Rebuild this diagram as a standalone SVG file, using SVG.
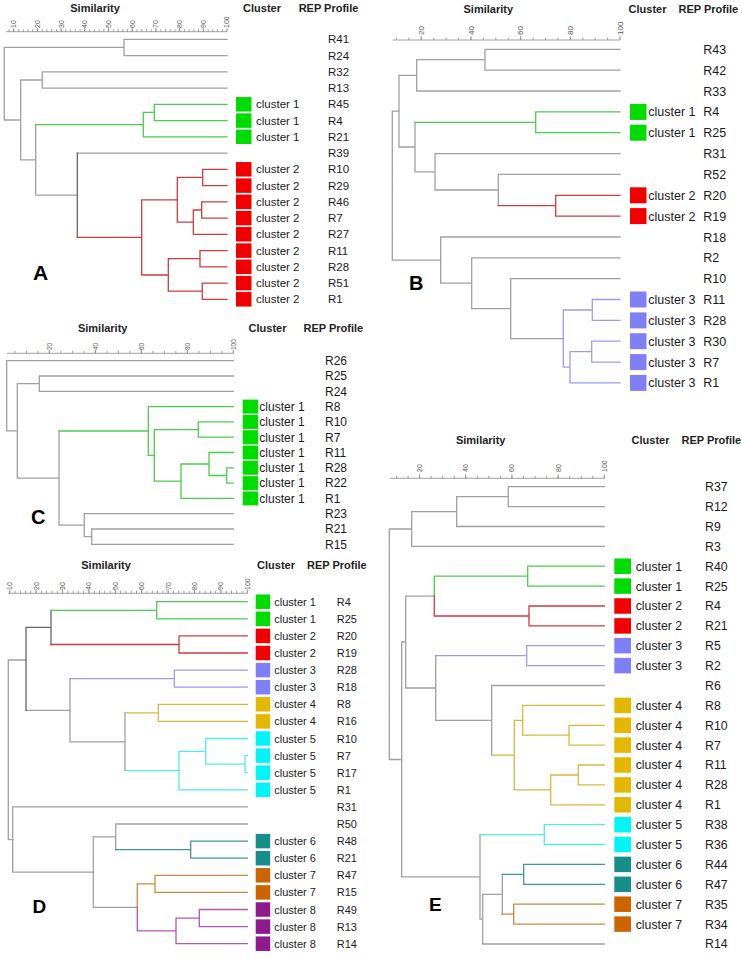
<svg xmlns="http://www.w3.org/2000/svg" width="742" height="959" viewBox="0 0 742 959">
<defs>
<style>
.ln{fill:none;stroke-width:1.3;stroke-linecap:square}
.g{stroke:#a0a0a0}.d{stroke:#666}.cg{stroke:#4ccc4c}.cr{stroke:#cc3c3c}.cb{stroke:#9c9cf0}.cy{stroke:#d9b840}.cc{stroke:#55e8e8}.ct{stroke:#3f9896}.co{stroke:#c98a3e}.cp{stroke:#b455b4}
.sg{fill:#00dc00}.sr{fill:#f20000}.sb{fill:#8080f6}.sy{fill:#e3b800}.sc{fill:#00f6f6}.st{fill:#178e8a}.so{fill:#cc6400}.sp{fill:#8e1a8e}
.hd{font-family:"Liberation Sans",Arial,sans-serif;font-weight:bold;font-size:11px;fill:#222;text-anchor:middle}
.pl{font-family:"Liberation Sans",Arial,sans-serif;font-weight:bold;fill:#000}
.tk{font-family:"Liberation Sans",Arial,sans-serif;fill:#555}
.ax{fill:none;stroke:#888;stroke-width:0.8}
.fa{font-family:"Liberation Sans",Arial,sans-serif;font-size:11.5px;fill:#1a1a1a}
.fb{font-family:"Liberation Sans",Arial,sans-serif;font-size:12.5px;fill:#1a1a1a}
.fc{font-family:"Liberation Sans",Arial,sans-serif;font-size:12px;fill:#1a1a1a}
.fd{font-family:"Liberation Sans",Arial,sans-serif;font-size:11px;fill:#1a1a1a}
.fe{font-family:"Liberation Sans",Arial,sans-serif;font-size:12.3px;fill:#1a1a1a}
</style>
<pattern id="pA" x="13.3" y="0" width="4.74" height="959" patternUnits="userSpaceOnUse"><rect x="0" y="0" width="0.8" height="959" fill="#888"/></pattern>
<pattern id="pB" x="420.8" y="0" width="12.425" height="959" patternUnits="userSpaceOnUse"><rect x="0" y="0" width="0.8" height="959" fill="#888"/></pattern>
<pattern id="pC" x="48.9" y="0" width="11.5" height="959" patternUnits="userSpaceOnUse"><rect x="0" y="0" width="0.8" height="959" fill="#888"/></pattern>
<pattern id="pD" x="9.3" y="0" width="5.28" height="959" patternUnits="userSpaceOnUse"><rect x="0" y="0" width="0.8" height="959" fill="#888"/></pattern>
<pattern id="pE" x="419.1" y="0" width="11.55" height="959" patternUnits="userSpaceOnUse"><rect x="0" y="0" width="0.8" height="959" fill="#888"/></pattern>
</defs>
<rect width="742" height="959" fill="#fff"/>

<!-- ================= PANEL A ================= -->
<g id="panelA">
<text class="hd" x="95" y="12">Similarity</text>
<text class="hd" x="262" y="12">Cluster</text>
<text class="hd" x="328.5" y="12">REP Profile</text>
<g id="axisA">
<path class="ax" d="M6 31.7H227M13.7 31.7v-4M37.4 31.7v-4M61.1 31.7v-4M84.8 31.7v-4M108.5 31.7v-4M132.2 31.7v-4M155.9 31.7v-4M179.6 31.7v-4M203.3 31.7v-4M227 31.7v-4"/>
<rect x="6" y="29.2" width="221.4" height="2.5" fill="url(#pA)"/>
<g class="tk" font-size="7">
<text transform="translate(16.1,28) rotate(-90)">10</text>
<text transform="translate(39.8,28) rotate(-90)">20</text>
<text transform="translate(63.5,28) rotate(-90)">30</text>
<text transform="translate(87.2,28) rotate(-90)">40</text>
<text transform="translate(110.9,28) rotate(-90)">50</text>
<text transform="translate(134.6,28) rotate(-90)">60</text>
<text transform="translate(158.3,28) rotate(-90)">70</text>
<text transform="translate(182,28) rotate(-90)">80</text>
<text transform="translate(205.7,28) rotate(-90)">90</text>
<text transform="translate(229.4,28) rotate(-90)">100</text>
</g>
</g>
<g id="connectorsA">
<path class="ln g" d="M124 39.3H227M124 55.6H227M124 39.3V55.6M42.3 71.8H227M42.3 88.1H227M42.3 71.8V88.1M77.3 153.1H227M4.3 47.4H124M4.3 47.4V120M4.3 120H20.7M20.7 80H42.3M20.7 80V159.9M20.7 159.9H35.7M35.7 124.6V195.2M35.7 195.2H77.3"/>
<path class="ln d" d="M77.3 153.1V237.4"/>
<path class="ln cg" d="M154.3 104.3H227M154.3 120.6H227M154.3 104.3V120.6M143.3 112.4H154.3M143.3 136.8H227M143.3 112.4V136.8M35.7 124.6H143.3"/>
<path class="ln cr" d="M202.7 169.3H227M202.7 185.6H227M202.7 169.3V185.6M201.7 201.8H227M201.7 218.1H227M201.7 201.8V218.1M193.3 210H201.7M193.3 234.3H227M193.3 210V234.3M177.3 177.4H202.7M177.3 222.2H193.3M177.3 177.4V222.2M200 250.6H227M200 266.8H227M200 250.6V266.8M202.3 283.1H227M202.3 299.3H227M202.3 283.1V299.3M168.3 258.7H200M168.3 291.2H202.3M168.3 258.7V291.2M141.7 199.8H177.3M141.7 275H168.3M141.7 199.8V275M77.3 237.4H141.7"/>
</g>
<g id="A-R41"><text class="fa" x="328" y="43.4">R41</text></g>
<g id="A-R24"><text class="fa" x="328" y="59.7">R24</text></g>
<g id="A-R32"><text class="fa" x="328" y="75.9">R32</text></g>
<g id="A-R13"><text class="fa" x="328" y="92.2">R13</text></g>
<g id="A-R45"><rect class="sg" x="236" y="97.05" width="15.5" height="14.5"/><text class="fa" x="256" y="108.4">cluster 1</text><text class="fa" x="328" y="108.4">R45</text></g>
<g id="A-R4"><rect class="sg" x="236" y="113.35" width="15.5" height="14.5"/><text class="fa" x="256" y="124.7">cluster 1</text><text class="fa" x="328" y="124.7">R4</text></g>
<g id="A-R21"><rect class="sg" x="236" y="129.55" width="15.5" height="14.5"/><text class="fa" x="256" y="140.9">cluster 1</text><text class="fa" x="328" y="140.9">R21</text></g>
<g id="A-R39"><text class="fa" x="328" y="157.2">R39</text></g>
<g id="A-R10"><rect class="sr" x="236" y="162.05" width="15.5" height="14.5"/><text class="fa" x="256" y="173.4">cluster 2</text><text class="fa" x="328" y="173.4">R10</text></g>
<g id="A-R29"><rect class="sr" x="236" y="178.35" width="15.5" height="14.5"/><text class="fa" x="256" y="189.7">cluster 2</text><text class="fa" x="328" y="189.7">R29</text></g>
<g id="A-R46"><rect class="sr" x="236" y="194.55" width="15.5" height="14.5"/><text class="fa" x="256" y="205.9">cluster 2</text><text class="fa" x="328" y="205.9">R46</text></g>
<g id="A-R7"><rect class="sr" x="236" y="210.85" width="15.5" height="14.5"/><text class="fa" x="256" y="222.2">cluster 2</text><text class="fa" x="328" y="222.2">R7</text></g>
<g id="A-R27"><rect class="sr" x="236" y="227.05" width="15.5" height="14.5"/><text class="fa" x="256" y="238.4">cluster 2</text><text class="fa" x="328" y="238.4">R27</text></g>
<g id="A-R11"><rect class="sr" x="236" y="243.35" width="15.5" height="14.5"/><text class="fa" x="256" y="254.7">cluster 2</text><text class="fa" x="328" y="254.7">R11</text></g>
<g id="A-R28"><rect class="sr" x="236" y="259.55" width="15.5" height="14.5"/><text class="fa" x="256" y="270.9">cluster 2</text><text class="fa" x="328" y="270.9">R28</text></g>
<g id="A-R51"><rect class="sr" x="236" y="275.85" width="15.5" height="14.5"/><text class="fa" x="256" y="287.2">cluster 2</text><text class="fa" x="328" y="287.2">R51</text></g>
<g id="A-R1"><rect class="sr" x="236" y="292.05" width="15.5" height="14.5"/><text class="fa" x="256" y="303.4">cluster 2</text><text class="fa" x="328" y="303.4">R1</text></g>
<text class="pl" font-size="21" x="33" y="280">A</text>
</g>

<!-- ================= PANEL B ================= -->
<g id="panelB">
<text class="hd" x="488.3" y="12.5">Similarity</text>
<text class="hd" x="647.5" y="12.5">Cluster</text>
<text class="hd" x="708.3" y="12.5">REP Profile</text>
<g id="axisB">
<path class="ax" d="M392.7 40H620M421.2 40v-4M470.9 40v-4M520.6 40v-4M570.3 40v-4M620 40v-4"/>
<rect x="392.7" y="37.5" width="227.7" height="2.5" fill="url(#pB)"/>
<g class="tk" font-size="8">
<text transform="translate(424,35) rotate(-90)">20</text>
<text transform="translate(473.7,35) rotate(-90)">40</text>
<text transform="translate(523.4,35) rotate(-90)">60</text>
<text transform="translate(573.1,35) rotate(-90)">80</text>
<text transform="translate(622.8,35) rotate(-90)">100</text>
</g>
</g>
<g id="connectorsB">
<path class="ln g" d="M485 49.3H620M485 70.2H620M485 49.3V70.2M416.7 59.7H485M416.7 91H620M416.7 59.7V91M498.3 174.4H620M498.3 174.4V205.7M435 153.6H620M435 190H498.3M435 153.6V190M415 171.8H435M415 122.3V171.8M399 75.4H416.7M399 147H415M399 75.4V147M392.3 111.2H399M392.3 260.1H440.7M392.3 111.2V260.1M440.7 237H620M440.7 283.2H471.7M440.7 237V283.2M471.7 257.8H620M471.7 308.6H510.7M471.7 257.8V308.6M510.7 278.7H620M510.7 338.6H563.3M510.7 278.7V338.6"/>
<path class="ln cg" d="M535.7 111.9H620M535.7 132.7H620M535.7 111.9V132.7M415 122.3H535.7"/>
<path class="ln cr" d="M555.7 195.3H620M555.7 216.1H620M555.7 195.3V216.1M498.3 205.7H555.7"/>
<path class="ln cb" d="M592.3 299.5H620M592.3 320.4H620M592.3 299.5V320.4M591.7 341.2H620M591.7 362.1H620M591.7 341.2V362.1M570 351.6H591.7M570 382.9H620M570 351.6V382.9M563.3 310H592.3M563.3 367.2H570M563.3 310V367.2"/>
</g>
<g id="B-R43"><text class="fb" x="703.3" y="53.8">R43</text></g>
<g id="B-R42"><text class="fb" x="703.3" y="74.7">R42</text></g>
<g id="B-R33"><text class="fb" x="703.3" y="95.5">R33</text></g>
<g id="B-R4"><rect class="sg" x="630" y="103.9" width="16.5" height="16"/><text class="fb" x="648.3" y="116.4">cluster 1</text><text class="fb" x="703.3" y="116.4">R4</text></g>
<g id="B-R25"><rect class="sg" x="630" y="124.7" width="16.5" height="16"/><text class="fb" x="648.3" y="137.2">cluster 1</text><text class="fb" x="703.3" y="137.2">R25</text></g>
<g id="B-R31"><text class="fb" x="703.3" y="158.1">R31</text></g>
<g id="B-R52"><text class="fb" x="703.3" y="178.9">R52</text></g>
<g id="B-R20"><rect class="sr" x="630" y="187.3" width="16.5" height="16"/><text class="fb" x="648.3" y="199.8">cluster 2</text><text class="fb" x="703.3" y="199.8">R20</text></g>
<g id="B-R19"><rect class="sr" x="630" y="208.1" width="16.5" height="16"/><text class="fb" x="648.3" y="220.6">cluster 2</text><text class="fb" x="703.3" y="220.6">R19</text></g>
<g id="B-R18"><text class="fb" x="703.3" y="241.5">R18</text></g>
<g id="B-R2"><text class="fb" x="703.3" y="262.3">R2</text></g>
<g id="B-R10"><text class="fb" x="703.3" y="283.2">R10</text></g>
<g id="B-R11"><rect class="sb" x="630" y="291.5" width="16.5" height="16"/><text class="fb" x="648.3" y="304">cluster 3</text><text class="fb" x="703.3" y="304">R11</text></g>
<g id="B-R28"><rect class="sb" x="630" y="312.4" width="16.5" height="16"/><text class="fb" x="648.3" y="324.9">cluster 3</text><text class="fb" x="703.3" y="324.9">R28</text></g>
<g id="B-R30"><rect class="sb" x="630" y="333.2" width="16.5" height="16"/><text class="fb" x="648.3" y="345.7">cluster 3</text><text class="fb" x="703.3" y="345.7">R30</text></g>
<g id="B-R7"><rect class="sb" x="630" y="354.1" width="16.5" height="16"/><text class="fb" x="648.3" y="366.6">cluster 3</text><text class="fb" x="703.3" y="366.6">R7</text></g>
<g id="B-R1"><rect class="sb" x="630" y="374.9" width="16.5" height="16"/><text class="fb" x="648.3" y="387.4">cluster 3</text><text class="fb" x="703.3" y="387.4">R1</text></g>
<text class="pl" font-size="20" x="409" y="290">B</text>
</g>

<!-- ================= PANEL C ================= -->
<g id="panelC">
<text class="hd" x="102.7" y="332">Similarity</text>
<text class="hd" x="267.5" y="332">Cluster</text>
<text class="hd" x="333.3" y="332">REP Profile</text>
<g id="axisC">
<path class="ax" d="M6.7 353.3H233.3M49.3 353.3v-3.5M95.3 353.3v-3.5M141.3 353.3v-3.5M187.3 353.3v-3.5M233.3 353.3v-3.5"/>
<rect x="6.7" y="350.8" width="227" height="2.5" fill="url(#pC)"/>
<g class="tk" font-size="6.5">
<text transform="translate(51.6,350) rotate(-90)">20</text>
<text transform="translate(97.6,350) rotate(-90)">40</text>
<text transform="translate(143.6,350) rotate(-90)">60</text>
<text transform="translate(189.6,350) rotate(-90)">80</text>
<text transform="translate(235.6,350) rotate(-90)">100</text>
</g>
</g>
<g id="connectorsC">
<path class="ln g" d="M6.7 360.7H233.3M6.7 360.7V430.9M6.7 430.9H17.3M39.3 376H233.3M39.3 391.3H233.3M39.3 376V391.3M17.3 383.7H39.3M17.3 478.1H59M17.3 383.7V478.1M59 431V525.2M59 525.2H84.3M84.3 513.7H233.3M84.3 536.7H91.7M84.3 513.7V536.7M91.7 529H233.3M91.7 544.3H233.3M91.7 529V544.3"/>
<path class="ln cg" d="M59 431H148.3M148.3 406.6H233.3M148.3 455.4H154.3M148.3 406.6V455.4M154.3 429.6H198.3M154.3 481.2H181M154.3 429.6V481.2M198.3 421.9H233.3M198.3 437.2H233.3M198.3 421.9V437.2M181 464H209M181 498.4H233.3M181 464V498.4M209 452.5H233.3M209 475.5H226.7M209 452.5V475.5M226.7 467.8H233.3M226.7 483.1H233.3M226.7 467.8V483.1"/>
</g>
<g id="C-R26"><text class="fc" x="325" y="365">R26</text></g>
<g id="C-R25"><text class="fc" x="325" y="380.3">R25</text></g>
<g id="C-R24"><text class="fc" x="325" y="395.6">R24</text></g>
<g id="C-R8"><rect class="sg" x="242.7" y="399.6" width="15.5" height="14"/><text class="fc" x="259.3" y="410.9">cluster 1</text><text class="fc" x="325" y="410.9">R8</text></g>
<g id="C-R10"><rect class="sg" x="242.7" y="414.9" width="15.5" height="14"/><text class="fc" x="259.3" y="426.2">cluster 1</text><text class="fc" x="325" y="426.2">R10</text></g>
<g id="C-R7"><rect class="sg" x="242.7" y="430.2" width="15.5" height="14"/><text class="fc" x="259.3" y="441.5">cluster 1</text><text class="fc" x="325" y="441.5">R7</text></g>
<g id="C-R11"><rect class="sg" x="242.7" y="445.5" width="15.5" height="14"/><text class="fc" x="259.3" y="456.8">cluster 1</text><text class="fc" x="325" y="456.8">R11</text></g>
<g id="C-R28"><rect class="sg" x="242.7" y="460.8" width="15.5" height="14"/><text class="fc" x="259.3" y="472.1">cluster 1</text><text class="fc" x="325" y="472.1">R28</text></g>
<g id="C-R22"><rect class="sg" x="242.7" y="476.1" width="15.5" height="14"/><text class="fc" x="259.3" y="487.4">cluster 1</text><text class="fc" x="325" y="487.4">R22</text></g>
<g id="C-R1"><rect class="sg" x="242.7" y="491.4" width="15.5" height="14"/><text class="fc" x="259.3" y="502.7">cluster 1</text><text class="fc" x="325" y="502.7">R1</text></g>
<g id="C-R23"><text class="fc" x="325" y="518">R23</text></g>
<g id="C-R21"><text class="fc" x="325" y="533.3">R21</text></g>
<g id="C-R15"><text class="fc" x="325" y="548.6">R15</text></g>
<text class="pl" font-size="20" x="31" y="524">C</text>
</g>

<!-- ================= PANEL D ================= -->
<g id="panelD">
<text class="hd" x="106" y="569">Similarity</text>
<text class="hd" x="276" y="569">Cluster</text>
<text class="hd" x="336.8" y="569">REP Profile</text>
<g id="axisD">
<path class="ax" d="M8.3 593.3H247.3M9.7 593.3v-4M36.1 593.3v-4M62.5 593.3v-4M88.9 593.3v-4M115.3 593.3v-4M141.7 593.3v-4M168.1 593.3v-4M194.5 593.3v-4M220.9 593.3v-4M247.3 593.3v-4"/>
<rect x="8.3" y="590.8" width="239.4" height="2.5" fill="url(#pD)"/>
<g class="tk" font-size="7">
<text transform="translate(12.1,590) rotate(-90)">10</text>
<text transform="translate(38.5,590) rotate(-90)">20</text>
<text transform="translate(64.9,590) rotate(-90)">30</text>
<text transform="translate(91.3,590) rotate(-90)">40</text>
<text transform="translate(117.7,590) rotate(-90)">50</text>
<text transform="translate(144.1,590) rotate(-90)">60</text>
<text transform="translate(170.5,590) rotate(-90)">70</text>
<text transform="translate(196.9,590) rotate(-90)">80</text>
<text transform="translate(223.3,590) rotate(-90)">90</text>
<text transform="translate(249.7,590) rotate(-90)">100</text>
</g>
</g>
<g id="connectorsD">
<path class="ln g" d="M8.3 660V839.6M8.3 660H26M8.3 839.6H12.7M26 710.3H70M70 678.7V741.8M70 741.8H125M125 712.9V770.6M12.7 806.9H247.3M12.7 806.9V872.2M12.7 872.2H93.3M93.3 836.9H115.7M93.3 907.4H137.3M93.3 836.9V907.4M115.7 824H247.3M115.7 824V849.7"/>
<path class="ln d" d="M26 627.4V710.3M26 627.4H51M51 610.3V644.5"/>
<path class="ln cg" d="M51 610.3H156.7M156.7 601.7H247.3M156.7 618.8H247.3M156.7 601.7V618.8"/>
<path class="ln cr" d="M51 644.5H179M179 635.9H247.3M179 653H247.3M179 635.9V653"/>
<path class="ln cb" d="M70 678.7H174.3M174.3 670.1H247.3M174.3 687.2H247.3M174.3 670.1V687.2"/>
<path class="ln cy" d="M125 712.9H158.3M158.3 704.3H247.3M158.3 721.4H247.3M158.3 704.3V721.4"/>
<path class="ln cc" d="M125 770.6H179M179 751.4H205.7M179 789.8H247.3M179 751.4V789.8M205.7 738.5H247.3M205.7 764.2H245M205.7 738.5V764.2M245 755.6H247.3M245 772.7H247.3M245 755.6V772.7"/>
<path class="ln ct" d="M115.7 849.7H190.7M190.7 841.1H247.3M190.7 858.2H247.3M190.7 841.1V858.2"/>
<path class="ln co" d="M137.3 883.9H155M137.3 883.9V907.4M155 875.3H247.3M155 892.4H247.3M155 875.3V892.4"/>
<path class="ln cp" d="M137.3 907.4V930.9M137.3 930.9H176M176 918.1H199.3M176 943.7H247.3M176 918.1V943.7M199.3 909.5H247.3M199.3 926.6H247.3M199.3 909.5V926.6"/>
</g>
<g id="D-R4"><rect class="sg" x="255.7" y="594.45" width="14.5" height="14.5"/><text class="fd" x="274.3" y="605.7">cluster 1</text><text class="fd" x="336.7" y="605.7">R4</text></g>
<g id="D-R25"><rect class="sg" x="255.7" y="611.55" width="14.5" height="14.5"/><text class="fd" x="274.3" y="622.8">cluster 1</text><text class="fd" x="336.7" y="622.8">R25</text></g>
<g id="D-R20"><rect class="sr" x="255.7" y="628.65" width="14.5" height="14.5"/><text class="fd" x="274.3" y="639.9">cluster 2</text><text class="fd" x="336.7" y="639.9">R20</text></g>
<g id="D-R19"><rect class="sr" x="255.7" y="645.75" width="14.5" height="14.5"/><text class="fd" x="274.3" y="657">cluster 2</text><text class="fd" x="336.7" y="657">R19</text></g>
<g id="D-R28"><rect class="sb" x="255.7" y="662.85" width="14.5" height="14.5"/><text class="fd" x="274.3" y="674.1">cluster 3</text><text class="fd" x="336.7" y="674.1">R28</text></g>
<g id="D-R18"><rect class="sb" x="255.7" y="679.95" width="14.5" height="14.5"/><text class="fd" x="274.3" y="691.2">cluster 3</text><text class="fd" x="336.7" y="691.2">R18</text></g>
<g id="D-R8"><rect class="sy" x="255.7" y="697.05" width="14.5" height="14.5"/><text class="fd" x="274.3" y="708.3">cluster 4</text><text class="fd" x="336.7" y="708.3">R8</text></g>
<g id="D-R16"><rect class="sy" x="255.7" y="714.15" width="14.5" height="14.5"/><text class="fd" x="274.3" y="725.4">cluster 4</text><text class="fd" x="336.7" y="725.4">R16</text></g>
<g id="D-R10"><rect class="sc" x="255.7" y="731.25" width="14.5" height="14.5"/><text class="fd" x="274.3" y="742.5">cluster 5</text><text class="fd" x="336.7" y="742.5">R10</text></g>
<g id="D-R7"><rect class="sc" x="255.7" y="748.35" width="14.5" height="14.5"/><text class="fd" x="274.3" y="759.6">cluster 5</text><text class="fd" x="336.7" y="759.6">R7</text></g>
<g id="D-R17"><rect class="sc" x="255.7" y="765.45" width="14.5" height="14.5"/><text class="fd" x="274.3" y="776.7">cluster 5</text><text class="fd" x="336.7" y="776.7">R17</text></g>
<g id="D-R1"><rect class="sc" x="255.7" y="782.55" width="14.5" height="14.5"/><text class="fd" x="274.3" y="793.8">cluster 5</text><text class="fd" x="336.7" y="793.8">R1</text></g>
<g id="D-R31"><text class="fd" x="336.7" y="810.9">R31</text></g>
<g id="D-R50"><text class="fd" x="336.7" y="828">R50</text></g>
<g id="D-R48"><rect class="st" x="255.7" y="833.85" width="14.5" height="14.5"/><text class="fd" x="274.3" y="845.1">cluster 6</text><text class="fd" x="336.7" y="845.1">R48</text></g>
<g id="D-R21"><rect class="st" x="255.7" y="850.95" width="14.5" height="14.5"/><text class="fd" x="274.3" y="862.2">cluster 6</text><text class="fd" x="336.7" y="862.2">R21</text></g>
<g id="D-R47"><rect class="so" x="255.7" y="868.05" width="14.5" height="14.5"/><text class="fd" x="274.3" y="879.3">cluster 7</text><text class="fd" x="336.7" y="879.3">R47</text></g>
<g id="D-R15"><rect class="so" x="255.7" y="885.15" width="14.5" height="14.5"/><text class="fd" x="274.3" y="896.4">cluster 7</text><text class="fd" x="336.7" y="896.4">R15</text></g>
<g id="D-R49"><rect class="sp" x="255.7" y="902.25" width="14.5" height="14.5"/><text class="fd" x="274.3" y="913.5">cluster 8</text><text class="fd" x="336.7" y="913.5">R49</text></g>
<g id="D-R13"><rect class="sp" x="255.7" y="919.35" width="14.5" height="14.5"/><text class="fd" x="274.3" y="930.6">cluster 8</text><text class="fd" x="336.7" y="930.6">R13</text></g>
<g id="D-R14"><rect class="sp" x="255.7" y="936.45" width="14.5" height="14.5"/><text class="fd" x="274.3" y="947.7">cluster 8</text><text class="fd" x="336.7" y="947.7">R14</text></g>
<text class="pl" font-size="19" x="32.5" y="912.7">D</text>
</g>

<!-- ================= PANEL E ================= -->
<g id="panelE">
<text class="hd" x="480.7" y="444">Similarity</text>
<text class="hd" x="650.5" y="444">Cluster</text>
<text class="hd" x="711.3" y="444">REP Profile</text>
<g id="axisE">
<path class="ax" d="M390 478.3H604.3M419.5 478.3v-4M465.7 478.3v-4M511.9 478.3v-4M558.1 478.3v-4M604.3 478.3v-4"/>
<rect x="390" y="475.8" width="214.7" height="2.5" fill="url(#pE)"/>
<g class="tk" font-size="7">
<text transform="translate(422,472) rotate(-90)">20</text>
<text transform="translate(468.2,472) rotate(-90)">40</text>
<text transform="translate(514.4,472) rotate(-90)">60</text>
<text transform="translate(560.6,472) rotate(-90)">80</text>
<text transform="translate(606.8,472) rotate(-90)">100</text>
</g>
</g>
<g id="connectorsE">
<path class="ln g" d="M389.3 529V759.5M389.3 529H411.7M389.3 759.5H401.7M411.7 511.6V546.3M411.7 511.6H456.7M411.7 546.3H604.3M456.7 496.7V526.5M456.7 496.7H508.3M456.7 526.5H604.3M508.3 486.7H604.3M508.3 506.6H604.3M508.3 486.7V506.6M401.7 642V876.9M401.7 642H405.7M401.7 876.9H480M405.7 596.1V688M405.7 596.1H434.3M405.7 688H435.7M435.7 655.7V720.3M435.7 720.3H491.7M491.7 685.5H604.3M491.7 685.5V755.1M480 834.6V919.2M480 919.2H482.7M482.7 894.3V944M482.7 894.3H502.3M482.7 944H604.3M502.3 874.4V914.2"/>
<path class="ln cg" d="M434.3 576.2V596.1M434.3 576.2H527.7M527.7 566.2H604.3M527.7 586.1H604.3M527.7 566.2V586.1"/>
<path class="ln cr" d="M434.3 596.1V616M434.3 616H529M529 606H604.3M529 625.9H604.3M529 606V625.9"/>
<path class="ln cb" d="M435.7 655.7H526.7M526.7 645.7H604.3M526.7 665.6H604.3M526.7 645.7V665.6"/>
<path class="ln cy" d="M491.7 755.1H514.3M514.3 720.3V789.9M514.3 720.3H522.7M514.3 789.9H550.7M522.7 705.4H604.3M522.7 735.2H569M522.7 705.4V735.2M569 725.3H604.3M569 745.1H604.3M569 725.3V745.1M550.7 775H578.3M550.7 804.8H604.3M550.7 775V804.8M578.3 765H604.3M578.3 784.9H604.3M578.3 765V784.9"/>
<path class="ln cc" d="M480 834.6H544.3M544.3 824.7H604.3M544.3 844.5H604.3M544.3 824.7V844.5"/>
<path class="ln ct" d="M502.3 874.4H523.7M523.7 864.4H604.3M523.7 884.3H604.3M523.7 864.4V884.3"/>
<path class="ln co" d="M502.3 914.2H513.7M513.7 904.2H604.3M513.7 924.1H604.3M513.7 904.2V924.1"/>
</g>
<g id="E-R37"><text class="fe" x="705" y="491.1">R37</text></g>
<g id="E-R12"><text class="fe" x="705" y="511">R12</text></g>
<g id="E-R9"><text class="fe" x="705" y="530.9">R9</text></g>
<g id="E-R3"><text class="fe" x="705" y="550.7">R3</text></g>
<g id="E-R40"><rect class="sg" x="614.3" y="558.45" width="16.7" height="15.5"/><text class="fe" x="635.7" y="570.6">cluster 1</text><text class="fe" x="705" y="570.6">R40</text></g>
<g id="E-R25"><rect class="sg" x="614.3" y="578.35" width="16.7" height="15.5"/><text class="fe" x="635.7" y="590.5">cluster 1</text><text class="fe" x="705" y="590.5">R25</text></g>
<g id="E-R4"><rect class="sr" x="614.3" y="598.25" width="16.7" height="15.5"/><text class="fe" x="635.7" y="610.4">cluster 2</text><text class="fe" x="705" y="610.4">R4</text></g>
<g id="E-R21"><rect class="sr" x="614.3" y="618.15" width="16.7" height="15.5"/><text class="fe" x="635.7" y="630.3">cluster 2</text><text class="fe" x="705" y="630.3">R21</text></g>
<g id="E-R5"><rect class="sb" x="614.3" y="637.95" width="16.7" height="15.5"/><text class="fe" x="635.7" y="650.1">cluster 3</text><text class="fe" x="705" y="650.1">R5</text></g>
<g id="E-R2"><rect class="sb" x="614.3" y="657.85" width="16.7" height="15.5"/><text class="fe" x="635.7" y="670">cluster 3</text><text class="fe" x="705" y="670">R2</text></g>
<g id="E-R6"><text class="fe" x="705" y="689.9">R6</text></g>
<g id="E-R8"><rect class="sy" x="614.3" y="697.65" width="16.7" height="15.5"/><text class="fe" x="635.7" y="709.8">cluster 4</text><text class="fe" x="705" y="709.8">R8</text></g>
<g id="E-R10"><rect class="sy" x="614.3" y="717.55" width="16.7" height="15.5"/><text class="fe" x="635.7" y="729.7">cluster 4</text><text class="fe" x="705" y="729.7">R10</text></g>
<g id="E-R7"><rect class="sy" x="614.3" y="737.35" width="16.7" height="15.5"/><text class="fe" x="635.7" y="749.5">cluster 4</text><text class="fe" x="705" y="749.5">R7</text></g>
<g id="E-R11"><rect class="sy" x="614.3" y="757.25" width="16.7" height="15.5"/><text class="fe" x="635.7" y="769.4">cluster 4</text><text class="fe" x="705" y="769.4">R11</text></g>
<g id="E-R28"><rect class="sy" x="614.3" y="777.15" width="16.7" height="15.5"/><text class="fe" x="635.7" y="789.3">cluster 4</text><text class="fe" x="705" y="789.3">R28</text></g>
<g id="E-R1"><rect class="sy" x="614.3" y="797.05" width="16.7" height="15.5"/><text class="fe" x="635.7" y="809.2">cluster 4</text><text class="fe" x="705" y="809.2">R1</text></g>
<g id="E-R38"><rect class="sc" x="614.3" y="816.95" width="16.7" height="15.5"/><text class="fe" x="635.7" y="829.1">cluster 5</text><text class="fe" x="705" y="829.1">R38</text></g>
<g id="E-R36"><rect class="sc" x="614.3" y="836.75" width="16.7" height="15.5"/><text class="fe" x="635.7" y="848.9">cluster 5</text><text class="fe" x="705" y="848.9">R36</text></g>
<g id="E-R44"><rect class="st" x="614.3" y="856.65" width="16.7" height="15.5"/><text class="fe" x="635.7" y="868.8">cluster 6</text><text class="fe" x="705" y="868.8">R44</text></g>
<g id="E-R47"><rect class="st" x="614.3" y="876.55" width="16.7" height="15.5"/><text class="fe" x="635.7" y="888.7">cluster 6</text><text class="fe" x="705" y="888.7">R47</text></g>
<g id="E-R35"><rect class="so" x="614.3" y="896.45" width="16.7" height="15.5"/><text class="fe" x="635.7" y="908.6">cluster 7</text><text class="fe" x="705" y="908.6">R35</text></g>
<g id="E-R34"><rect class="so" x="614.3" y="916.35" width="16.7" height="15.5"/><text class="fe" x="635.7" y="928.5">cluster 7</text><text class="fe" x="705" y="928.5">R34</text></g>
<g id="E-R14"><text class="fe" x="705" y="948.4">R14</text></g>
<text class="pl" font-size="19" x="429" y="910.7">E</text>
</g>
</svg>
